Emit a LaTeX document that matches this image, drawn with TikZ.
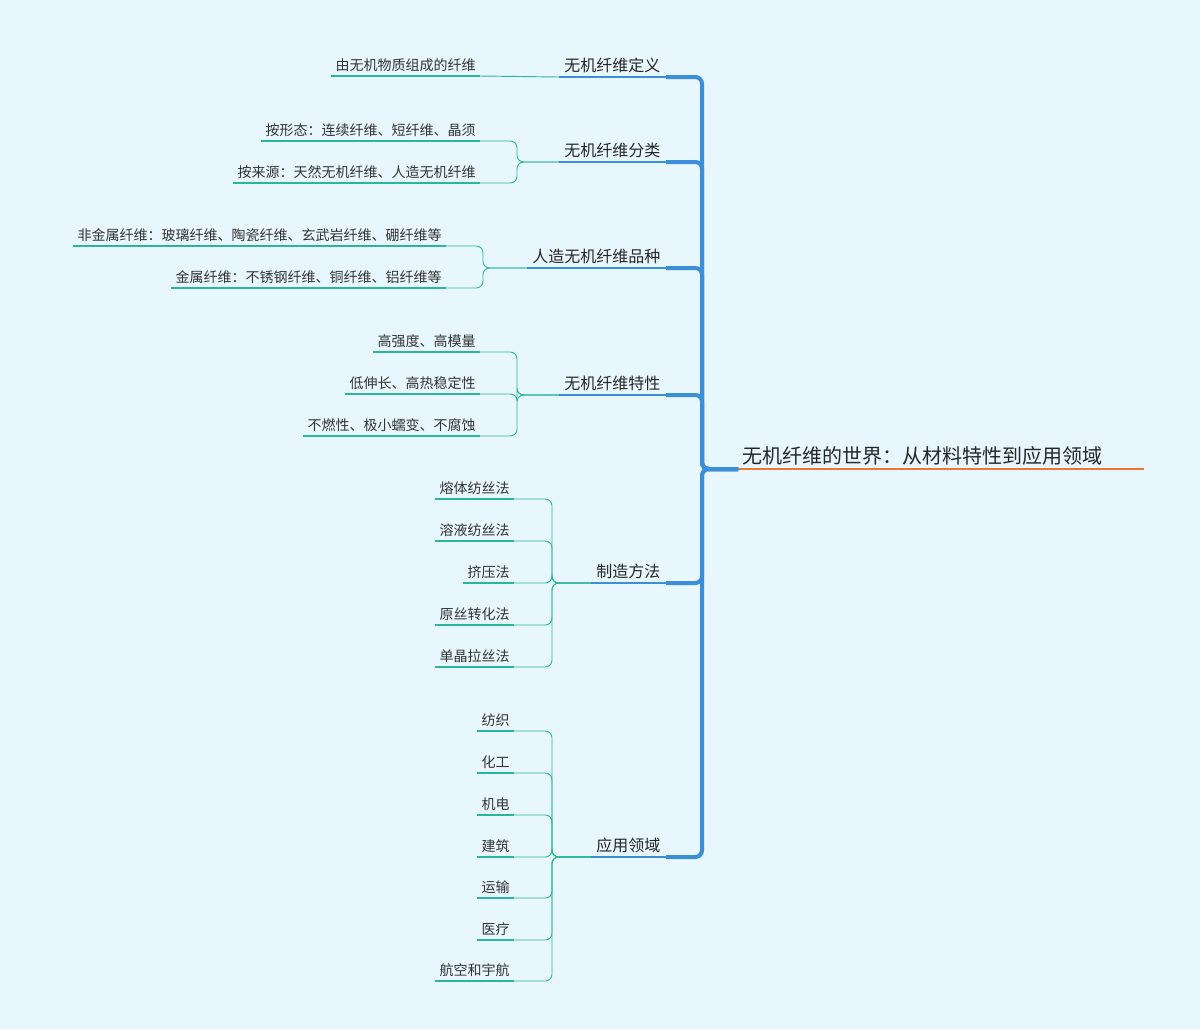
\documentclass[tikz,border=0pt]{standalone}
\usepackage{fontspec}
\setmainfont{Noto Sans CJK SC}
\definecolor{bgblue}{HTML}{E8F7FD}
\definecolor{mainblue}{HTML}{3A8FD8}
\definecolor{leafteal}{HTML}{2CB59E}
\definecolor{rootorange}{HTML}{E8773A}
\tikzset{
  root/.style={anchor=south west, inner xsep=3, inner ysep=3, font=\fontsize{15}{17}\selectfont, text=black!85},
  topic/.style={anchor=south east, inner xsep=4, inner ysep=3, font=\fontsize{12}{14}\selectfont, text=black!85},
  leaf/.style={anchor=south east, inner xsep=3, inner ysep=3, font=\fontsize{10.5}{12}\selectfont, text=black!80},
  trunk/.style={draw=mainblue, line width=3pt, rounded corners=5},
  topicline/.style={draw=mainblue, line width=2.2pt},
  leafline/.style={draw=leafteal, line width=1.6pt},
  conn/.style={draw=leafteal, line width=0.7pt, rounded corners=5},
}
\begin{document}
\begin{tikzpicture}[x=0.75pt,y=-0.75pt]
\fill[bgblue] (0,0) rectangle (1200,1029);
\useasboundingbox (0,0) rectangle (1200,1029);

% root
\node[root] (root) at (738,469) {无机纤维的世界：从材料特性到应用领域};
\draw[draw=rootorange, line width=1.6pt] (root.south west) -- (1144,469);
\coordinate (tr) at (702,469);

% topics
\node[topic] (def) at (666,77) {无机纤维定义};
\node[topic] (cls) at (666,162) {无机纤维分类};
\node[topic] (kind) at (666,268) {人造无机纤维品种};
\node[topic] (prop) at (666,395) {无机纤维特性};
\node[topic] (make) at (666,583) {制造方法};
\node[topic] (app) at (666,857) {应用领域};
\foreach \t in {def,cls,kind,prop,make,app}{
  \draw[topicline] (\t.south west) -- (\t.south east);
  \draw[trunk] (root.south west) -- (tr) |- (\t.south east);
}

% leaves
\node[leaf] (def1) at (480,76) {由无机物质组成的纤维};
\node[leaf] (cls1) at (480,141) {按形态：连续纤维、短纤维、晶须};
\node[leaf] (cls2) at (480,183) {按来源：天然无机纤维、人造无机纤维};
\node[leaf] (kind1) at (446,246) {非金属纤维：玻璃纤维、陶瓷纤维、玄武岩纤维、硼纤维等};
\node[leaf] (kind2) at (446,288) {金属纤维：不锈钢纤维、铜纤维、铝纤维等};
\node[leaf] (prop1) at (480,352) {高强度、高模量};
\node[leaf] (prop2) at (480,394) {低伸长、高热稳定性};
\node[leaf] (prop3) at (480,436) {不燃性、极小蠕变、不腐蚀};
\foreach \n/\y in {1/499,2/541,3/583,4/625,5/667}
  \coordinate (m\n) at (514,\y);
\node[leaf] (make1) at (m1) {熔体纺丝法};
\node[leaf] (make2) at (m2) {溶液纺丝法};
\node[leaf] (make3) at (m3) {挤压法};
\node[leaf] (make4) at (m4) {原丝转化法};
\node[leaf] (make5) at (m5) {单晶拉丝法};
\node[leaf] (app1) at (514,731) {纺织};
\node[leaf] (app2) at (514,773) {化工};
\node[leaf] (app3) at (514,815) {机电};
\node[leaf] (app4) at (514,857) {建筑};
\node[leaf] (app5) at (514,898) {运输};
\node[leaf] (app6) at (514,940) {医疗};
\node[leaf] (app7) at (514,981) {航空和宇航};

\draw[conn] (def1.south east) .. controls (520,76) and (520,77) .. (def.south west);

\coordinate (bcls) at (517,162);
\coordinate (bkind) at (483,268);
\coordinate (bprop) at (517,395);
\coordinate (bmake) at (552,583);
\coordinate (bapp) at (552,857);
\foreach \p/\c in {cls/cls1,cls/cls2,kind/kind1,kind/kind2,prop/prop1,prop/prop2,prop/prop3,
  make/make1,make/make2,make/make3,make/make4,make/make5,
  app/app1,app/app2,app/app3,app/app4,app/app5,app/app6,app/app7}{
  \draw[conn] (\c.south east) -| (b\p) -- (\p.south west);
}
\foreach \c in {def1,cls1,cls2,kind1,kind2,prop1,prop2,prop3,make1,make2,make3,make4,make5,
  app1,app2,app3,app4,app5,app6,app7}
  \draw[leafline] (\c.south west) -- (\c.south east);
\end{tikzpicture}
\end{document}
